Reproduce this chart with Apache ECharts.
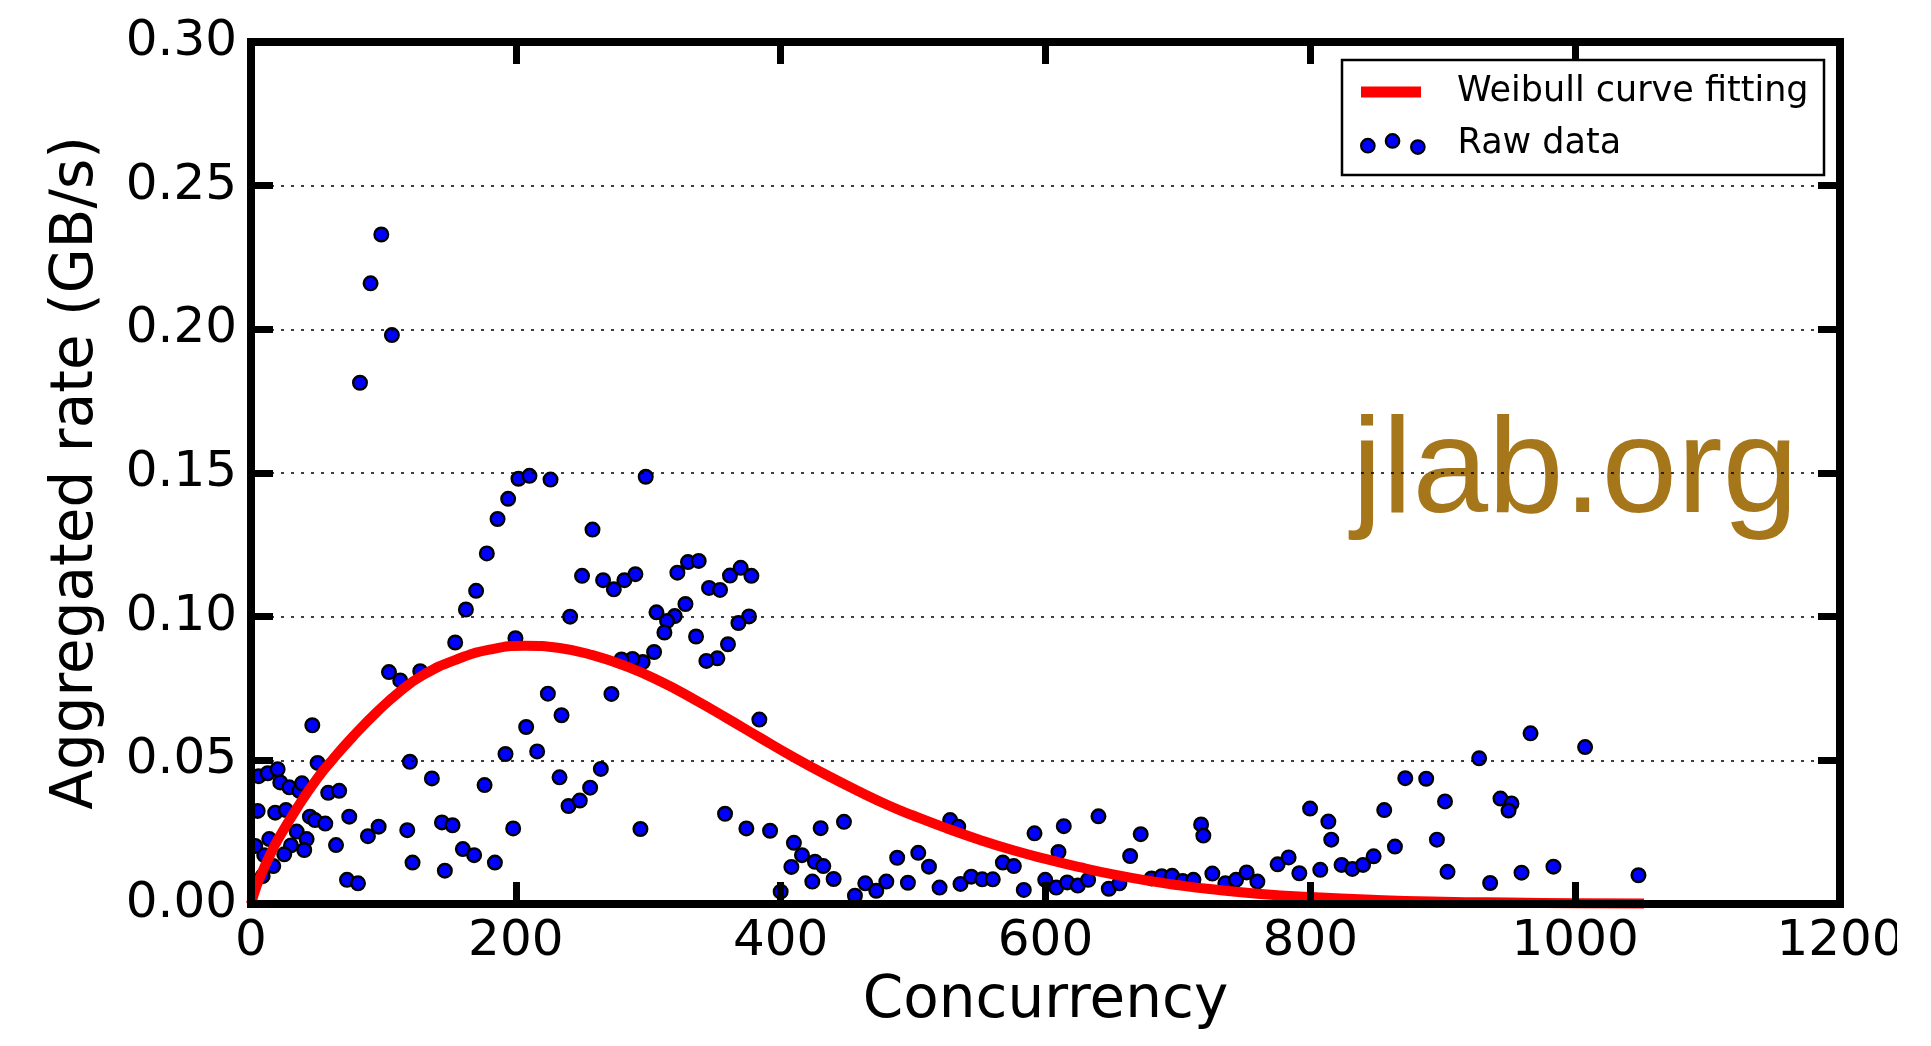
<!DOCTYPE html>
<html>
<head>
<meta charset="utf-8">
<title>Aggregated rate vs concurrency</title>
<script src="https://cdn.jsdelivr.net/npm/echarts@6/dist/echarts.min.js"></script>
<style>
  html, body { margin: 0; padding: 0; background: #fff; }
  #chart { width: 1931px; height: 1046px; }
</style>
</head>
<body>
<div id="chart"></div>
<script>
// Measured transfers: concurrency level and the aggregated rate (GB/s)
const rawConcurrency = [
  5.8, 12.6, 20.1, 22.1, 28.9, 36.5, 38.5, 50.3, 58.3, 66.6, 120, 136.6,
  5, 18.3, 26.4, 44.5, 48.3, 56.1, 74.2, 96.4, 88.3, 118, 34.5, 42,
  13.8, 30.2, 40.2, 25.1, 10, 3.2, 16.8, 8.8, 64.2, 122, 72.5, 80.8,
  98.4, 90.3, 106.4, 82.3, 202, 210.3, 226.2, 194.2, 186.2, 178.1, 170, 162.3,
  154.2, 199.7, 104.2, 112.7, 127.8, 224.2, 207.8, 216.1, 192.2, 46.3, 176.4, 144.2,
  152.2, 198, 160, 168.5, 184.2, 146.4,
  241, 234.5, 233, 239.8, 298.1, 257.9, 250, 265.9, 274, 282, 290.3, 322,
  330, 338.1, 345.9, 354.2, 361.7, 369.8, 377.9, 306.2, 328.1, 320, 314.2, 312.2,
  376.1, 368.1, 336.1, 304.4, 295.8, 288.1, 279.8, 360.2, 352.2, 343.9, 272.2, 383.9,
  264.2, 256.1, 248.3, 294.1, 358, 374.1, 392, 410, 416.1, 408.1, 425.9, 432.2,
  423.9, 440, 430.2, 447.8, 400, 456.1, 463.9, 472.2, 479.8,
  488, 496.1, 503.9, 512, 520, 528, 534.1, 535.8, 543.9, 552.2, 560.2, 567.8,
  576.1, 583.6, 591.7, 599.8, 608.1, 609.8, 613.8, 616.4, 624.4, 632.2, 640, 647.8,
  655.8, 663.9, 671.9, 680, 687.8, 695.6, 703.6, 711.7, 717.5, 719.2,
  726, 735.8, 743.9, 751.9, 760, 775.3, 783.6, 791.7, 799.8, 807.5, 813.6, 815.8,
  823.6, 831.7, 839.8, 847.8, 855.8, 863.9, 871.7, 887.5, 895.6, 901.7, 903.6, 927.5,
  935.8, 943.6, 951.9, 949.7, 959.5, 966.3, 1007.5, 983.6, 1047.8
];
const rawRate = [
  0.0445, 0.0455, 0.0469, 0.0423, 0.0406, 0.0394, 0.042, 0.0491, 0.0387, 0.0394, 0.0495, 0.0437,
  0.0324, 0.0318, 0.0327, 0.0304, 0.0292, 0.028, 0.0304, 0.0269, 0.0236, 0.0257, 0.0252, 0.0226,
  0.0226, 0.0204, 0.0188, 0.0173, 0.017, 0.0202, 0.0132, 0.0097, 0.0205, 0.0144, 0.0084, 0.0072,
  0.233, 0.216, 0.198, 0.1814, 0.148, 0.149, 0.1477, 0.141, 0.134, 0.122, 0.109, 0.1025,
  0.091, 0.0925, 0.0807, 0.0778, 0.081, 0.0732, 0.0616, 0.0531, 0.0522, 0.0622, 0.0414, 0.0284,
  0.0274, 0.0263, 0.0191, 0.017, 0.0144, 0.0116,
  0.100, 0.0657, 0.0441, 0.0341, 0.1487, 0.1303, 0.1142, 0.1127, 0.1095, 0.1127, 0.1148, 0.1153,
  0.119, 0.1194, 0.11, 0.1093, 0.1143, 0.117, 0.1142, 0.1015, 0.1044, 0.1002, 0.0985, 0.0945,
  0.1001, 0.0978, 0.0931, 0.0877, 0.0842, 0.0853, 0.0851, 0.0904, 0.0855, 0.0846, 0.0731, 0.0642,
  0.047, 0.0405, 0.036, 0.0261, 0.0314, 0.0263, 0.0255, 0.0213, 0.017, 0.0129, 0.0147, 0.0132,
  0.0078, 0.0087, 0.0264, 0.0286, 0.0043, 0.0029, 0.0072, 0.0046, 0.0078,
  0.0161, 0.0074, 0.0178, 0.013, 0.0057, 0.0292, 0.0269, 0.007, 0.0095, 0.0086, 0.0086, 0.0144,
  0.0132, 0.0049, 0.0246, 0.0084, 0.0057, 0.0181, 0.0271, 0.0075, 0.0064, 0.0084, 0.0305, 0.0053,
  0.0072, 0.0167, 0.0243, 0.0089, 0.0097, 0.0098, 0.008, 0.0084, 0.0277, 0.0238,
  0.0106, 0.0072, 0.0084, 0.011, 0.0078, 0.0138, 0.0162, 0.0107, 0.0332, 0.0119, 0.0287, 0.0224,
  0.0136, 0.0122, 0.0136, 0.0166, 0.0327, 0.02, 0.0438, 0.0436, 0.0224, 0.0357, 0.0112, 0.0507,
  0.0073, 0.0367, 0.035, 0.0325, 0.0109, 0.0594, 0.0546, 0.013, 0.01
];

// Fitted Weibull curve, sampled along concurrency
const fitConcurrency = [
  0, 4, 8, 14, 20, 35, 50, 62, 77, 95, 113, 130, 154, 180, 207, 233, 258, 284,
  309, 334, 359, 384, 409, 435, 460, 482, 500, 525, 550, 575, 600, 626, 651, 676,
  701, 724, 760, 800, 850, 900, 950, 1000, 1052
];
const fitRate = [
  0, 0.0060, 0.0106, 0.0167, 0.0222, 0.0336, 0.0437, 0.0505, 0.0583, 0.0668, 0.0742, 0.0797,
  0.0849, 0.0885, 0.0899, 0.0891, 0.0866, 0.0826, 0.0775, 0.0714, 0.0648, 0.0580, 0.0513, 0.0448,
  0.0390, 0.0342, 0.0308, 0.0264, 0.0224, 0.0188, 0.0157, 0.0128, 0.0103, 0.0082, 0.0065, 0.0052,
  0.0036, 0.0024, 0.0014, 0.0008, 0.0005, 0.0003, 0.0002
];

// Axis ranges and tick steps
const xRange = [0, 1200], xStep = 200;
const yRange = [0, 0.30], yStep = 0.05;

const seriesNames = ['Weibull curve fitting', 'Raw data'];
const watermarkText = 'jlab.org';

const FONT = 'DejaVu Sans';

function circlePath(cx, cy, r) {
  return `M${cx - r},${cy} A${r},${r} 0 1,0 ${cx + r},${cy} A${r},${r} 0 1,0 ${cx - r},${cy} Z`;
}
// three staggered dots used as the scatter legend key
const dotsIcon = 'path://' + [
  circlePath(6.75, 11.5, 6.75),
  circlePath(31.45, 6.75, 6.75),
  circlePath(56.75, 12.85, 6.75)
].join(' ');

const frameLine = { onZero: false, lineStyle: { color: '#000', width: 8, cap: 'square' } };
const innerTicks = { show: true, inside: true, length: 22, lineStyle: { color: '#000', width: 7 } };

function xAxisBase(position) {
  return {
    type: 'value', position, min: xRange[0], max: xRange[1], interval: xStep,
    z: 6, axisLine: frameLine, axisTick: innerTicks, splitLine: { show: false }
  };
}
function yAxisBase(position) {
  return {
    type: 'value', position, min: yRange[0], max: yRange[1], interval: yStep,
    z: 6, axisLine: frameLine, axisTick: innerTicks, splitLine: { show: false }
  };
}

const chart = echarts.init(document.getElementById('chart'), null, { renderer: 'canvas' });

chart.setOption({
  animation: false,
  backgroundColor: '#fff',
  grid: { left: 251, top: 42, width: 1589, height: 862, containLabel: false },
  xAxis: [
    Object.assign(xAxisBase('bottom'), {
      name: 'Concurrency', nameLocation: 'middle', nameGap: 69,
      nameTextStyle: { fontFamily: FONT, fontSize: 58, color: '#000' },
      axisLabel: {
        show: true, margin: 13, fontFamily: FONT, fontSize: 50, color: '#000',
        formatter: v => String(v)
      }
    }),
    Object.assign(xAxisBase('top'), { axisLabel: { show: false } })
  ],
  yAxis: [
    Object.assign(yAxisBase('left'), {
      name: 'Aggregated rate (GB/s)', nameLocation: 'middle', nameGap: 145,
      nameTextStyle: { fontFamily: FONT, fontSize: 58, color: '#000' },
      axisLabel: {
        show: true, margin: 14, fontFamily: FONT, fontSize: 50, color: '#000',
        formatter: v => v.toFixed(2)
      }
    }),
    Object.assign(yAxisBase('right'), {
      z: 3,
      axisLabel: { show: false },
      splitLine: { show: true, lineStyle: { color: '#000', width: 1.5, type: [3, 7] } }
    })
  ],
  legend: [
    {
      data: [{ name: seriesNames[0], icon: 'rect' }],
      orient: 'vertical', left: 1361, top: 72, padding: 0,
      itemWidth: 60, itemHeight: 11, selectedMode: false, z: 10,
      itemStyle: { color: '#ff0000', borderWidth: 0 },
      textStyle: { fontFamily: FONT, fontSize: 35, color: '#000', lineHeight: 40, padding: [0, 0, 0, 31] }
    },
    {
      data: [{ name: seriesNames[1], icon: dotsIcon }],
      orient: 'vertical', left: 1360, top: 124, padding: 0,
      itemWidth: 63.5, itemHeight: 19.6, selectedMode: false, z: 10,
      itemStyle: { color: '#0000ff', borderColor: '#000', borderWidth: 2.2 },
      textStyle: { fontFamily: FONT, fontSize: 35, color: '#000', lineHeight: 40, padding: [0, 0, 0, 28] }
    }
  ],
  graphic: {
    elements: [
      {
        type: 'text', x: 1352, y: 406, z: 2, silent: true,
        style: {
          text: watermarkText, fill: '#a6761a',
          fontFamily: 'Liberation Sans', fontSize: 136, verticalAlign: 'top'
        }
      },
      {
        type: 'rect', z: 8, silent: true,
        shape: { x: 1342, y: 60, width: 482, height: 115 },
        style: { fill: '#fff', stroke: '#000', lineWidth: 2.5 }
      },
      {
        type: 'rect', z: 20, silent: true,
        shape: { x: 1897, y: 908, width: 40, height: 140 },
        style: { fill: '#fff' }
      }
    ]
  },
  series: [
    {
      name: seriesNames[0],
      type: 'line',
      xAxisIndex: 0, yAxisIndex: 0,
      z: 4,
      data: fitConcurrency.map((x, i) => [x, fitRate[i]]),
      showSymbol: false,
      smooth: 0.5,
      color: '#ff0000',
      lineStyle: { color: '#ff0000', width: 10, cap: 'butt', join: 'round' }
    },
    {
      name: seriesNames[1],
      type: 'scatter',
      xAxisIndex: 0, yAxisIndex: 0,
      z: 2,
      data: rawConcurrency.map((x, i) => [x, rawRate[i]]),
      symbol: 'circle',
      symbolSize: 13.6,
      itemStyle: { color: '#0000ff', borderColor: '#000', borderWidth: 2.4, opacity: 1 }
    }
  ]
});
</script>
</body>
</html>
